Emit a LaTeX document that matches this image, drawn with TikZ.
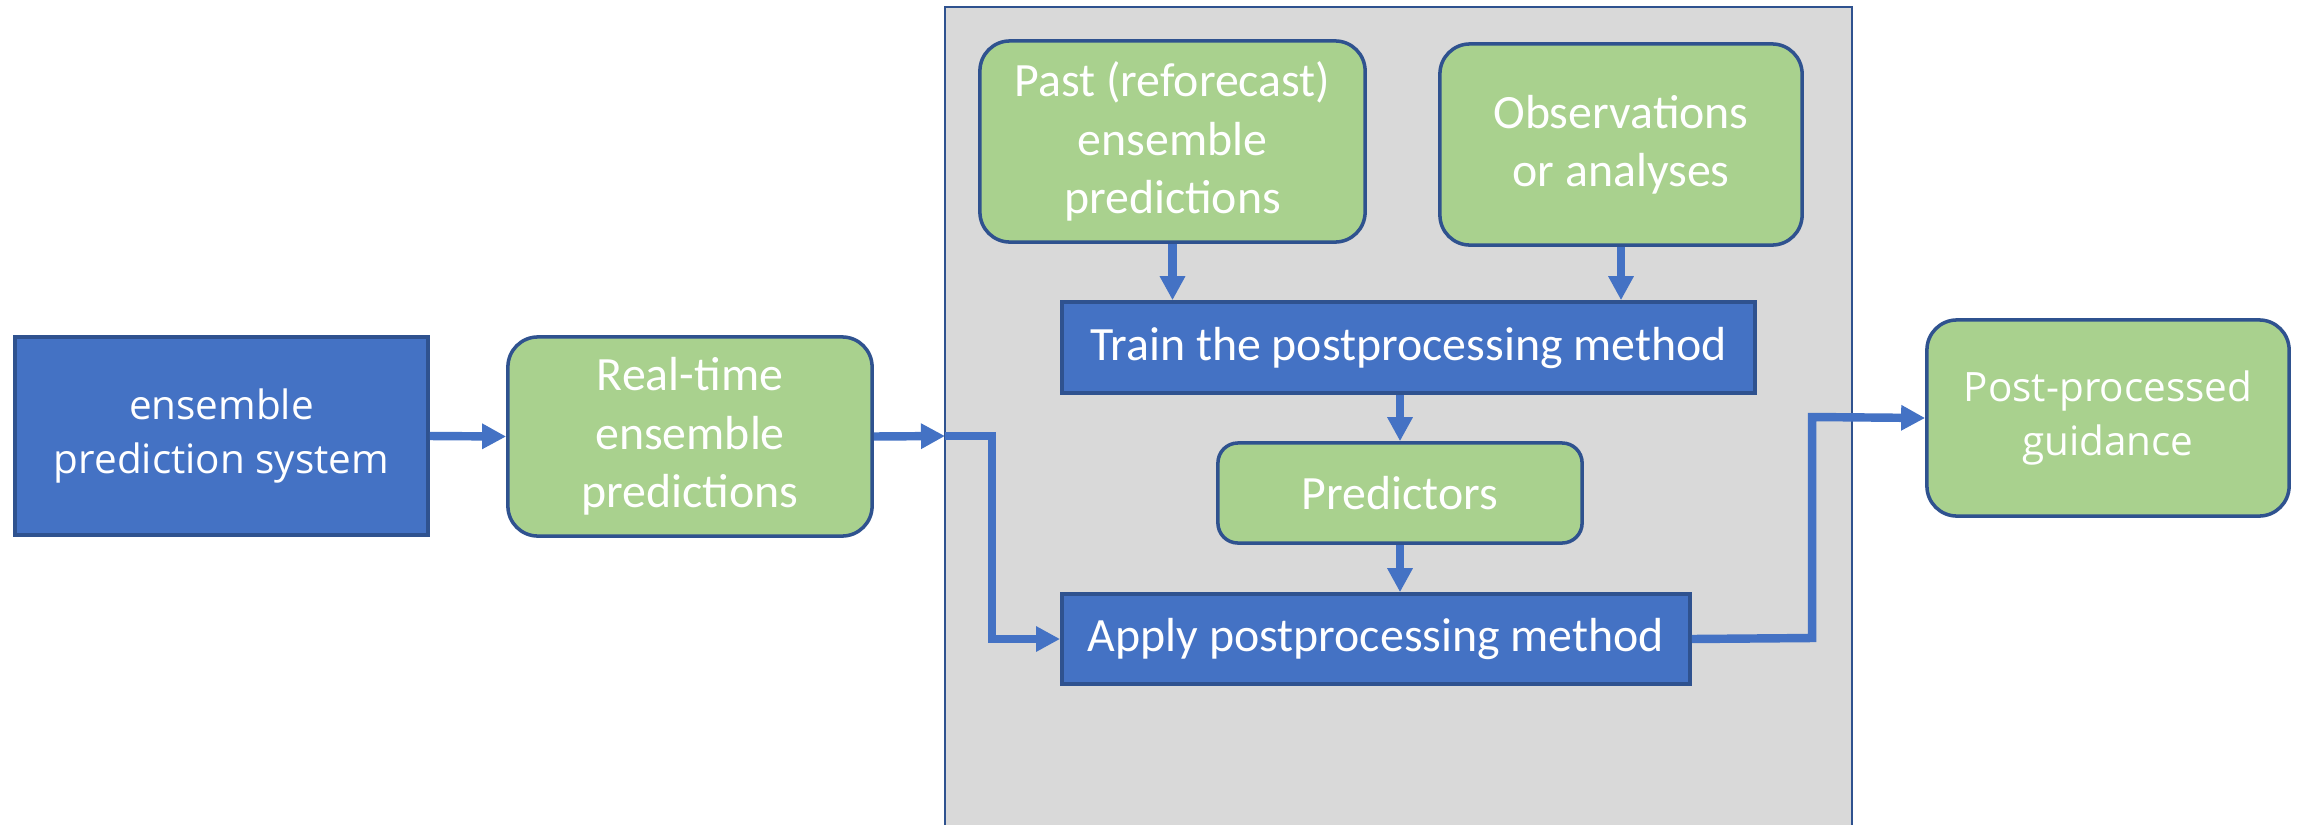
\documentclass[tikz,border=0pt]{standalone}
\usepackage{fontspec}
\setmainfont{Carlito}
\newfontfamily\postfont{Open Sans}
\usetikzlibrary{arrows.meta,calc}
\definecolor{bfill}{HTML}{4472C4}
\definecolor{bedge}{HTML}{2F528F}
\definecolor{gfill}{HTML}{A9D18E}
\definecolor{pgray}{HTML}{D9D9D9}
\definecolor{arr}{HTML}{4472C4}
\begin{document}
\begin{tikzpicture}[x=0.01cm,y=-0.01cm,
  txt/.style={font=\fontsize{13.6}{16.6}\selectfont},
  sanstxt/.style={font=\postfont\fontsize{11.5}{15.6}\selectfont},
  bluebox/.style={draw=bedge, line width=1pt, fill=bfill, text=white, align=center, inner sep=0pt, txt},
  greenbox/.style={draw=bedge, line width=1pt, fill=gfill, text=white, align=center, inner sep=0pt, rounded corners=0.3cm, txt},
  conn/.style={draw=arr, line width=2.4pt, -{Triangle[length=0.24cm,width=0.24cm]}},
  plain/.style={draw=arr, line width=2.4pt}]
\useasboundingbox (0,0) rectangle (2301,824);
\fill[white] (0,0) rectangle (2301,824);
\draw[draw=bedge, fill=pgray, line width=0.8pt] (945,7) rectangle (1852,860);

\node[bluebox, sanstxt, minimum width=4.13cm, minimum height=1.98cm] (eps) at (221.5,436) {ensemble\\prediction system};
\node[greenbox, minimum width=3.64cm, minimum height=1.99cm] (rt) at (690,436.5) {Real-time\\ensemble\\predictions};
\node[greenbox, minimum width=3.85cm, minimum height=2.01cm] (past) at (1172.5,141.5) {Past (reforecast)\\ensemble\\predictions};
\node[greenbox, minimum width=3.62cm, minimum height=2.01cm] (obs) at (1621,144.5) {Observations\\or analyses};
\node[bluebox, minimum width=6.93cm, minimum height=0.91cm] (train) at (1408.5,347.5) {Train the postprocessing method};
\node[greenbox, rounded corners=0.2cm, minimum width=3.64cm, minimum height=1.0cm] (pred) at (1400,493) {Predictors};
\node[bluebox, minimum width=6.28cm, minimum height=0.90cm] (apply) at (1376,639) {Apply postprocessing method};
\node[greenbox, sanstxt, minimum width=3.62cm, minimum height=1.96cm] (post) at (2108,418) {Post-processed\\guidance};

\coordinate (edge) at (945,436);
\coordinate (bendA) at (992,436);
\coordinate (bendB) at (1812,638);
\coordinate (bendC) at (1812,417);

\draw[conn] (eps.east) -- (rt.west);
\draw[conn] (rt.east) -- (edge);
\draw[conn] (edge) -- (bendA) |- (apply.west);
\draw[conn] (past.south) -- (past.south |- train.north);
\draw[conn] (obs.south) -- (obs.south |- train.north);
\draw[conn] (pred.north |- train.south) -- (pred.north);
\draw[conn] (pred.south) -- (pred.south |- apply.north);
\draw[conn] (apply.east) -- (bendB) -- (bendC) -- (post.west);
\end{tikzpicture}
\end{document}
